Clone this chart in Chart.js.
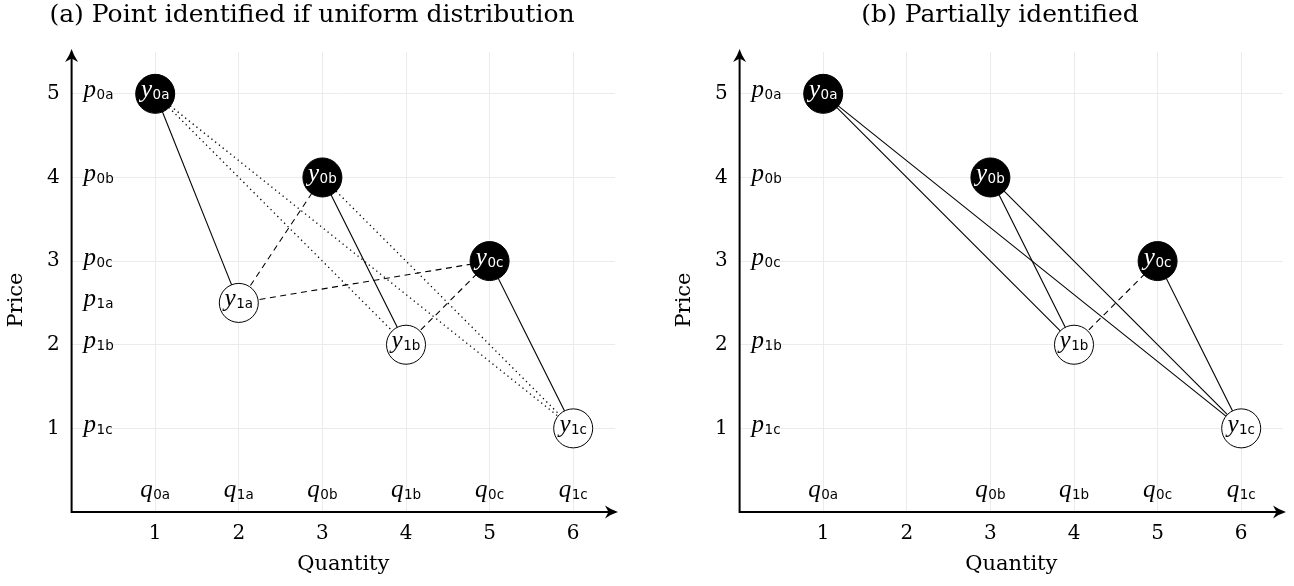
<!DOCTYPE html>
<html>
<head>
<meta charset="utf-8">
<script src="https://cdn.jsdelivr.net/npm/chart.js@4/dist/chart.umd.min.js"></script>
<style>
  html, body { margin: 0; padding: 0; background: #fff; overflow: hidden; }
  canvas { position: absolute; top: 0; }
  #panelA { left: 0; }
  #panelB { left: 668px; }
</style>
</head>
<body>
<canvas id="panelA" width="626" height="586"></canvas>
<canvas id="panelB" width="626" height="586"></canvas>
<script>
const quantityTicks = [1, 2, 3, 4, 5, 6];
const priceTicks = [1, 2, 3, 4, 5];

// panel (a)
const namesA = ['0a', '1a', '0b', '1b', '0c', '1c'];
const quantityA = [1, 2, 3, 4, 5, 6];
const priceA = [5, 2.5, 4, 2, 3, 1];
const solidA = [['0a', '1a'], ['0b', '1b'], ['0c', '1c']];
const dashedA = [['1a', '0b'], ['1a', '0c'], ['1b', '0c']];
const dottedA = [['0a', '1b'], ['0a', '1c'], ['0b', '1c']];

// panel (b)
const namesB = ['0a', '0b', '1b', '0c', '1c'];
const quantityB = [1, 3, 4, 5, 6];
const priceB = [5, 4, 2, 3, 1];
const solidB = [['0a', '1b'], ['0a', '1c'], ['0b', '1b'], ['0b', '1c'], ['0c', '1c']];
const dashedB = [['1b', '0c']];
const dottedB = [];

const SERIF = '"DejaVu Serif", serif';
const MATH = 'italic 25px "Liberation Serif", serif';
const SUB = '13.5px "DejaVu Sans", sans-serif';

// italic symbol with sans subscript, e.g. y_{0a}
function drawSym(ctx, base, sub, x, y, align, color) {
  ctx.font = MATH;
  const wb = ctx.measureText(base).width;
  ctx.font = SUB;
  const ws = ctx.measureText(sub).width;
  const w = wb + 0.5 + ws;
  let x0 = align === 'left' ? x : x - w / 2;
  ctx.fillStyle = color;
  ctx.textAlign = 'left';
  ctx.textBaseline = 'alphabetic';
  ctx.font = MATH;
  ctx.fillText(base, x0, y + 3.5);
  ctx.font = SUB;
  ctx.fillText(sub, x0 + wb + 0.5, y + 5.5);
}

function arrowHead(ctx, x, y, angle) {
  ctx.save();
  ctx.translate(x, y);
  ctx.rotate(angle);
  ctx.beginPath();
  ctx.moveTo(3, 0);
  ctx.quadraticCurveTo(-3, -1.8, -10, -6.5);
  ctx.lineTo(-6.5, 0);
  ctx.lineTo(-10, 6.5);
  ctx.quadraticCurveTo(-3, 1.8, 3, 0);
  ctx.closePath();
  ctx.fillStyle = '#000';
  ctx.fill();
  ctx.restore();
}

const panelText = {
  id: 'panelText',
  afterDatasetsDraw(chart, args, opts) {
    const ctx = chart.ctx;
    const xs = chart.scales.x, ys = chart.scales.y;
    ctx.save();
    opts.names.forEach((n, i) => {
      const px = xs.getPixelForValue(opts.q[i]);
      const py = ys.getPixelForValue(opts.p[i]);
      drawSym(ctx, 'y', n, px, py, 'center', n[0] === '0' ? '#fff' : '#000');
    });
    ctx.restore();
  },
  afterDraw(chart, args, opts) {
    const ctx = chart.ctx;
    const xs = chart.scales.x, ys = chart.scales.y;
    const ox = xs.getPixelForValue(0), oy = ys.getPixelForValue(0);
    const ex = xs.getPixelForValue(xs.max), ty = ys.getPixelForValue(ys.max);
    ctx.save();
    // axes with arrows
    ctx.strokeStyle = '#000';
    ctx.lineWidth = 2;
    ctx.beginPath();
    ctx.moveTo(ox, ty + 4);
    ctx.lineTo(ox, oy);
    ctx.lineTo(ex - 4, oy);
    ctx.stroke();
    arrowHead(ctx, ex, oy, 0);
    arrowHead(ctx, ox, ty, -Math.PI / 2);
    // p and q labels
    opts.names.forEach((n, i) => {
      drawSym(ctx, 'p', n, ox + 12, ys.getPixelForValue(opts.p[i]), 'left', '#000');
      drawSym(ctx, 'q', n, xs.getPixelForValue(opts.q[i]), oy - 19, 'center', '#000');
    });
    // titles
    ctx.fillStyle = '#000';
    ctx.textAlign = 'center';
    ctx.textBaseline = 'middle';
    ctx.font = '25px ' + SERIF;
    ctx.fillText(opts.title, opts.titleX, 15);
    ctx.font = '21px ' + SERIF;
    ctx.fillText('Quantity', (chart.chartArea.left + chart.chartArea.right) / 2, 565);
    ctx.translate(17, 300);
    ctx.rotate(-Math.PI / 2);
    ctx.fillText('Price', 0, 0);
    ctx.restore();
  }
};

function makeChart(id, names, q, p, solid, dashed, dotted, title, titleX) {
  const pt = n => ({ x: q[names.indexOf(n)], y: p[names.indexOf(n)] });
  const edge = (pair, dash, w) => ({
    data: pair.map(pt),
    showLine: true,
    borderColor: '#000',
    borderWidth: w,
    borderDash: dash,
    pointRadius: 0,
    pointHoverRadius: 0,
    order: 2
  });
  const datasets = [{
    data: names.map(pt),
    showLine: false,
    pointRadius: 19.5,
    pointHoverRadius: 19.5,
    pointBackgroundColor: names.map(n => n[0] === '0' ? '#000' : '#fff'),
    pointBorderColor: '#000',
    pointBorderWidth: 1,
    order: 0
  }]
    .concat(solid.map(e => edge(e, [], 1.1)))
    .concat(dashed.map(e => edge(e, [6, 4.5], 1.1)))
    .concat(dotted.map(e => edge(e, [1.3, 3.5], 1.3)));

  return new Chart(document.getElementById(id), {
    type: 'scatter',
    data: { datasets },
    options: {
      responsive: false,
      animation: false,
      layout: { autoPadding: false, padding: { top: 52, right: 11, left: 0, bottom: 0 } },
      plugins: {
        legend: { display: false },
        tooltip: { enabled: false },
        panelText: { names, q, p, title, titleX }
      },
      scales: {
        x: {
          type: 'linear',
          min: 0,
          max: 6.5,
          afterBuildTicks: s => { s.ticks = quantityTicks.map(v => ({ value: v })); },
          afterFit: s => { s.height = 74; s.paddingLeft = 0; s.paddingRight = 0; },
          grid: { color: '#ebebeb', lineWidth: 1, drawTicks: false },
          border: { display: false },
          ticks: { padding: 10, color: '#000', font: { family: SERIF, size: 20 } }
        },
        y: {
          type: 'linear',
          min: 0,
          max: 5.5,
          afterBuildTicks: s => { s.ticks = priceTicks.map(v => ({ value: v })); },
          afterFit: s => { s.width = 71.6; s.paddingTop = 0; s.paddingBottom = 0; },
          grid: { color: '#ebebeb', lineWidth: 1, drawTicks: false },
          border: { display: false },
          ticks: { padding: 12, color: '#000', font: { family: SERIF, size: 20 } }
        }
      }
    },
    plugins: [panelText]
  });
}

makeChart('panelA', namesA, quantityA, priceA, solidA, dashedA, dottedA,
  '(a) Point identified if uniform distribution', 312);
makeChart('panelB', namesB, quantityB, priceB, solidB, dashedB, dottedB,
  '(b) Partially identified', 332);
</script>
</body>
</html>
